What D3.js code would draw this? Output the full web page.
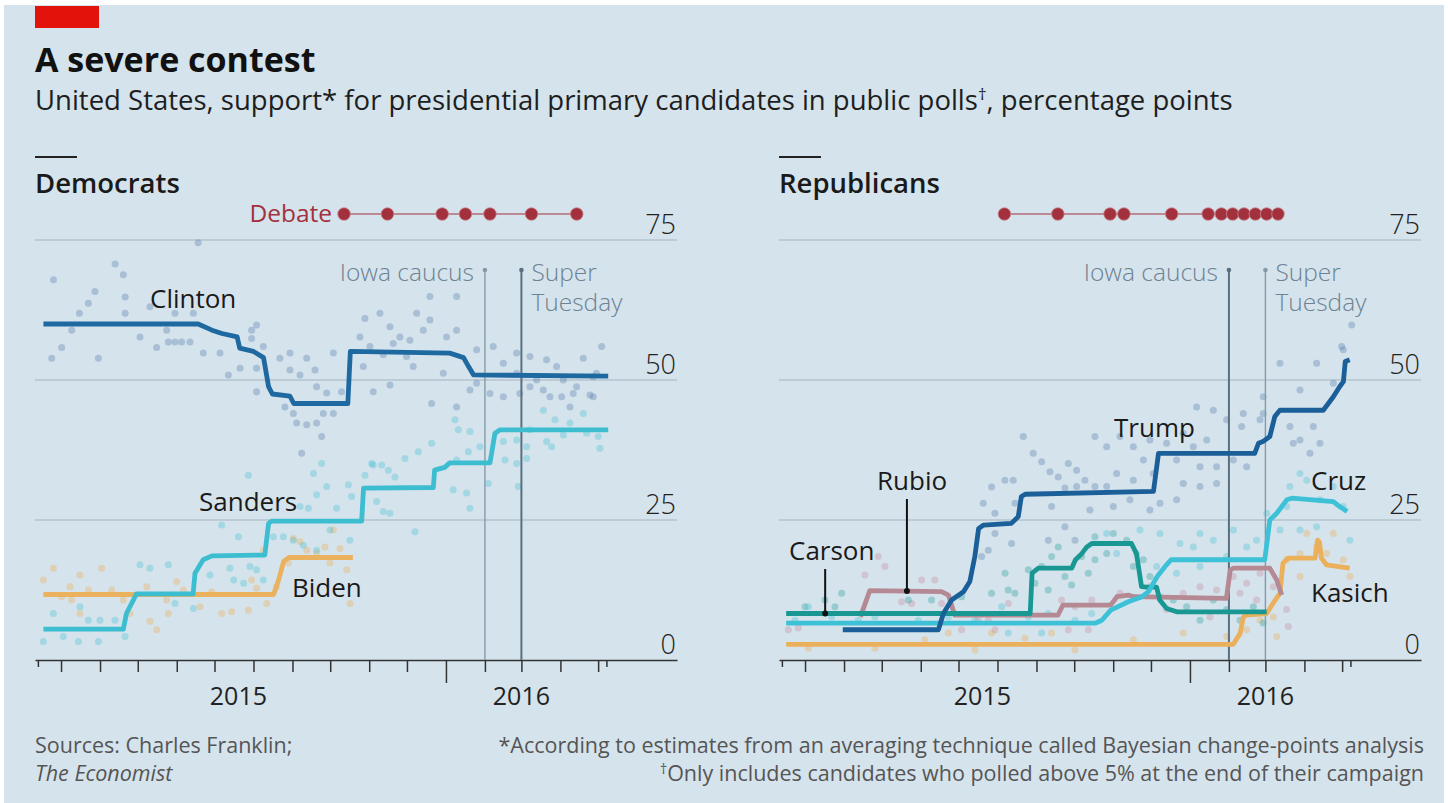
<!DOCTYPE html>
<html><head><meta charset="utf-8">
<script src="https://cdn.jsdelivr.net/npm/d3@7"></script>
<style>
html,body{margin:0;padding:0;background:#fff;}
svg text{font-family:"Open Sans",sans-serif;}
</style></head>
<body><svg id="chart" width="1448" height="803"></svg>
<script>
// x values: days since 1 Jan 2015; y values: percentage points
const yTicks = [0, 25, 50, 75];
const yearLabels = [{label: "2015", day: 200}, {label: "2016", day: 425}];
const events = [{label: "Iowa caucus", day: 396}, {label: "Super Tuesday", day: 425}];
const demDebates = [284, 318.5, 362, 380.5, 400, 433, 469];
const repDebates = [217.5, 260, 301.5, 312.5, 350.5, 379.5, 390, 399, 408, 417, 426, 435];

const clinton = [[45,60],[168,60],[179,58.9],[187,58.3],[199,57.7],[201,55.7],[212,55.1],[220,54],[224,48.8],[227,47.5],[241,47.1],[244,45.8],[287,45.8],[289,55.1],[368,54.8],[379,54],[383,52.4],[387,50.9],[494,50.7]];
const sanders = [[45,5.5],[108.5,5.5],[111,8.3],[119,11.8],[164,11.8],[165.5,15.5],[172,17.9],[179,18.6],[221,18.75],[224,24.4],[226.5,24.8],[298,24.8],[299.5,30.7],[355,30.8],[356,33.9],[364,34.4],[368,35.2],[400,35.2],[404,40.5],[408,41.1],[494,41.1]];
const biden = [[45,11.7],[228,11.7],[232,14.3],[236,17.6],[240,18.3],[291,18.3]];

const trump = [[89,5.4],[165,5.4],[169,8.3],[175.5,10.7],[185,12.2],[190,14],[194,18.5],[197,23.5],[201,24.1],[223,24.4],[228.5,25.6],[231,29.2],[234,29.6],[336,30.1],[340,36.9],[416.5,36.9],[419.5,38.7],[423,39],[428.5,39.9],[432.5,43.5],[436.5,44.6],[471,44.6],[475,45.8],[479,47],[484,48.8],[487,49.7],[488.5,53.3],[492,53.6]];
const cruz = [[44,6.6],[290,6.6],[295,7.1],[302,8.9],[316,10.4],[327,11.3],[332,12.2],[339,14.9],[346,16.9],[350,17.9],[424.5,17.9],[428.5,25],[434,26.2],[442,28.6],[446,28.9],[479,28.3],[484,27.4],[490,26.5]];
const carson = [[44,8.3],[238,8.3],[239.5,15.5],[244.5,16.4],[271,16.4],[274,17.9],[279,19],[283,20.2],[287,20.8],[318.5,20.8],[322.5,19],[326.5,13.1],[330.5,13],[338.5,13],[341,10.7],[346.5,9.2],[354.5,8.6],[426,8.6]];
const rubio = [[103,7.7],[110.5,12.4],[167.5,12.2],[173,11.6],[178,8],[260,8],[264,9.8],[302,9.8],[307,11.3],[316,11.6],[320,11.3],[394,11],[397,16],[399.5,16.4],[428.5,16.4],[434,14.3],[438,11.6]];
const kasich = [[44,2.8],[399.5,2.8],[405,4.8],[407.5,7.7],[410,8],[426,8.3],[431,10.1],[436.5,11.9],[439,17.3],[443,18.2],[464.5,18.2],[466.5,21.4],[468,21],[469.5,18.2],[473.5,17],[492,16.4]];

const clintonPolls = [[168,74.5],[53,67.9],[102,70.7],[108.5,68.8],[86,65.8],[80.7,63.7],[73.6,61.9],[110,64.8],[110,61.9],[129.7,63.1],[121.8,57.7],[67.5,58.9],[59.5,55.8],[51.6,53.9],[88.7,53.9],[135,55.8],[144.3,56.8],[149.6,56.8],[154.9,56.8],[161.5,56.8],[143,58.9],[149.6,61.9],[164.2,61.9],[172.1,54.8],[185.4,54.8],[192,50.9],[201.3,52.1],[210.5,58.9],[214.5,59.8],[210.5,57.4],[214.5,52.1],[219.8,56],[214.5,47.9],[233,53.9],[241,54.8],[241,51.8],[249,50.9],[254.3,53.9],[260.9,51.8],[262.2,48.8],[270.2,47.7],[282,47.9],[275.5,54.8],[237,45.2],[243.7,44],[246.3,42.3],[254.3,42],[262.2,42.3],[267.5,44],[275.5,44],[266.2,39.9],[250.3,36.9],[300.6,61],[312.5,61.9],[320.5,59.5],[328.4,57.7],[341.7,61.9],[352.3,60.7],[347,58.9],[373.5,64.9],[352.3,64.9],[296.6,57.7],[304.6,56],[315.2,54.5],[323.1,56.5],[336.4,57.1],[333.7,54.2],[339,52.4],[299.3,52.4],[320.5,49.1],[307.2,47.9],[362.9,51.2],[373.5,58.9],[365.5,57.7],[389.4,55.4],[402.6,56],[410.6,53],[421.2,54.8],[431.8,54.2],[445,53.6],[458.3,50],[468.9,48.8],[482.1,50.6],[488.8,56],[474.2,53.9],[389.4,49.4],[400,47.6],[410.6,47],[431.8,48.8],[447.7,47],[466.2,47.6],[482.1,47],[373.5,45.2],[421.2,51.2],[437.1,50],[453,52.4],[484.7,51.2],[353.6,45.8],[384.1,48.2],[423.8,47.6],[442.4,48.2],[457,47],[463.6,45.2],[479.5,47.3]];
const sandersPolls = [[44.9,3.3],[60.8,4.2],[72.8,3.3],[88.7,3.3],[52.9,8.3],[74,9.5],[80.7,7.1],[90,7.1],[101.9,7.1],[109.9,4.2],[121.8,17],[129.7,16.4],[144.3,17],[149.6,10.1],[164.2,9.2],[177.4,15.2],[186.7,24.1],[193.3,16.4],[200,22],[207.9,33],[209.2,16.7],[214.5,16.1],[196.3,14.3],[204.2,13.7],[219.8,14.3],[227.8,22],[235.7,22],[243.7,21.4],[249,27.4],[255.6,27.1],[259.6,33.3],[262.2,29.5],[266.2,35.1],[270.2,31],[278.1,27.1],[287.4,31.3],[290,29.2],[300.6,33],[305.9,35.1],[313.9,34.8],[309.9,28.3],[251.6,20.5],[262.2,19.6],[272.8,23.2],[288.7,21.4],[307.2,34.8],[319.2,33.9],[324.5,32.7],[315.2,26.5],[320.5,26.2],[340.4,22.9],[332.4,36],[343,37.2],[353.6,38.7],[372.2,42.9],[374.8,41.1],[384.1,40.8],[382.8,37.2],[373.5,35.7],[370.8,30.4],[381.4,29.8],[384.1,27.1],[392,38.1],[398.7,31.5],[410.6,39],[412,35.7],[421.2,35.1],[422.5,31],[429.2,38.1],[429.2,36],[421.2,39.3],[442.4,44.6],[449,38.1],[451.7,42.9],[458.3,40.2],[463.6,42.3],[474.2,44],[476.9,40.5],[487.4,37.8],[486.1,39.9],[445,39],[431.8,41.1]];
const bidenPolls = [[44.9,14.3],[52.9,16.4],[59.5,11.3],[66.1,13.1],[74,15.2],[80.7,12.5],[91.3,16.4],[99.3,12.5],[74,8.3],[67.5,10.7],[108.5,10.7],[113.8,8.3],[129.7,6.9],[135,5.4],[127.1,13.1],[143,10.7],[144.3,8.3],[150.9,14],[156.2,12.5],[169.5,9.5],[178.8,12.2],[186.7,8.3],[194.6,8.6],[207.9,8.9],[214.5,12.8],[222.5,10.1],[210.5,14.3],[219.8,19.6],[230.4,13.1],[243.7,21.7],[249,21.1],[254.3,19.6],[262.2,19.1],[268.8,20.2],[275.5,23.2],[280.8,19.9],[286.1,16.1],[288.7,10.1],[272.8,17.3],[239.7,17.3]];

const trumpPolls = [[232.5,39.9],[240.4,36.9],[247.1,35.4],[253.7,33.6],[260.3,32.7],[268.3,35.1],[274.9,33.9],[281.5,32.1],[289.5,39.9],[207.3,30.9],[217.9,32.1],[224.5,32.1],[210,26.2],[200.7,28],[210,22.6],[204.7,19.6],[199.4,18.5],[223.2,20.8],[255,27.4],[265.6,23.8],[273.6,21.4],[285.5,26.8],[252.4,21.4],[265.6,30.7],[225.9,28],[274.9,31],[289.5,31],[383.6,44.6],[394.2,42.9],[407.4,44],[423.3,44],[436.6,53],[452.5,48.2],[465.7,53],[479,49.4],[485.6,56],[493.6,59.8],[486.9,55.4],[444.5,41.7],[452.5,39.3],[463.1,41.7],[460.4,36.9],[468.4,38.7],[447.2,38.7],[420.7,42.9],[423.3,47],[406.1,41.7],[378.3,39.3],[367.7,38.1],[386.2,34.5],[399.5,35.7],[410.1,34.5],[373,34.5],[354.4,35.7],[346.5,38.7],[333.2,39.3],[320,38.1],[309.4,39.9],[298.8,38.1],[359.7,40.5],[328,35.7],[306.7,33.3],[320,32.1],[335.9,33.3],[298.8,31],[359.7,31.5],[373,31],[386.2,31.5],[354.4,28.6],[317.3,28.6],[304.1,27.4],[333.2,26.8],[341.2,28],[370.3,45.2]];
const cruzPolls = [[61.6,9.5],[51,7.1],[80.1,7.7],[101.3,7.1],[114.6,7.7],[149,7.1],[172.9,7.7],[194.1,7.1],[215.3,9.5],[236.5,7.7],[252.4,8.3],[273.6,7.1],[286.9,8.3],[220.6,4.8],[247.1,4.8],[444.5,31],[452.5,33.3],[457.8,32.1],[468.4,28.6],[479,31],[486.9,27.4],[492.2,21.4],[426,26.2],[441.9,27.4],[436.6,23.2],[452.5,23.2],[465.7,23.8],[373,22.6],[383.6,21.4],[367.7,20.2],[357.1,20.8],[399.5,23.2],[410.1,20.2],[418,21.4],[394.2,18.5],[373,16.7],[354.4,15.5],[338.5,16.7],[322.6,19],[306.7,19],[298.8,22.6],[325.3,23.2],[341.2,22.6]];
const rubioPolls = [[117.2,18.5],[122.5,16.7],[106.6,15.2],[151.7,14.3],[162.2,14.3],[167.6,10.1],[196.7,7.1],[204.7,7.1],[220.6,10.1],[45.7,5.4],[53.6,5.7],[135.8,10.4],[143.7,10.1],[183.5,5.4],[210,5.4],[262.9,10.7],[273.6,9.5],[286.9,10.7],[268.3,5.4],[284.2,5.4],[399.5,14.9],[410.1,13.7],[420.7,15.5],[431.3,13.1],[441.9,9],[443.2,6],[373,13.1],[359.7,11.9],[333.2,13.1],[309.4,11.9],[386.2,12.5],[346.5,9],[381,7.7],[404.8,11.9],[418,10.7]];
const carsonPolls = [[88.1,11.9],[74.8,10.7],[59,9.5],[82.8,9.5],[141.1,10.7],[159.6,10.7],[183.5,11.3],[207.3,11.9],[218,15.5],[225.9,11.9],[241.8,13.7],[247.1,16.7],[252.4,12.5],[260.3,20.2],[265.6,14.9],[270.9,13.4],[278.9,18.5],[284.2,15.5],[289.5,22],[289.5,17.9],[255,18.5],[236.5,16.1],[220.6,12.5],[304.1,22.6],[314.7,21.4],[298.8,19],[320,16.7],[327.9,17.9],[333.2,14.9],[341.2,11.3],[351.8,10.7],[362.4,9.5],[373,7.1],[383.6,10.7],[394.2,9],[404.8,7.1],[415.4,9.5],[423.3,6.6]];
const kasichPolls = [[61.6,2.1],[114.6,2.1],[154.3,3.6],[194.1,1.8],[233.8,3.9],[273.6,1.8],[172.9,4.8],[207.3,4.8],[255,4.8],[410.1,5.4],[420.7,7.1],[431.3,7.7],[441.9,17.9],[452.5,19],[457.8,22.6],[465.7,20.2],[473.7,19],[479,22.6],[486.9,17.9],[452.5,14.9],[434,4.2],[394.2,4.2],[320,3.6],[359.7,4.8],[492.2,14.9]];

// ---------- drawing ----------
const BASE = Date.UTC(2015, 0, 1);
const toDate = d => new Date(BASE + d * 864e5);
const svg = d3.select("#chart");
const BG = "#d5e3ec";

svg.append("rect").attr("x", 4).attr("y", 5).attr("width", 1440).attr("height", 798).attr("fill", BG);
svg.append("rect").attr("x", 35).attr("y", 6).attr("width", 64).attr("height", 22).attr("fill", "#e3120b");
svg.append("text").attr("x", 35).attr("y", 72).attr("font-size", 34).attr("font-weight", 700).attr("fill", "#111").text("A severe contest");
const sub = svg.append("text").attr("x", 35).attr("y", 110).attr("font-size", 27.5).attr("fill", "#1e1e1e");
sub.append("tspan").text("United States, support* for presidential primary candidates in public polls");
sub.append("tspan").attr("font-size", 17).attr("dy", -10).text("†");
sub.append("tspan").attr("dy", 10).text(", percentage points");

function panel(cfg) {
  const g = svg.append("g");
  const x = d3.scaleUtc().domain([toDate(38.3), toDate(548.7)]).range([cfg.x0, cfg.x0 + 642]);
  const y = d3.scaleLinear().domain([0, 75]).range([660, 240]);

  g.append("line").attr("x1", cfg.x0).attr("x2", cfg.x0 + 42).attr("y1", 157).attr("y2", 157).attr("stroke", "#222").attr("stroke-width", 2);
  g.append("text").attr("x", cfg.x0).attr("y", 193).attr("font-size", 27.5).attr("font-weight", 600).attr("fill", "#1a1a1a").text(cfg.title);

  g.selectAll("line.grid").data(yTicks.filter(v => v > 0)).join("line")
    .attr("x1", cfg.x0).attr("x2", cfg.x0 + 642).attr("y1", d => y(d)).attr("y2", d => y(d))
    .attr("stroke", "#a4b3bd").attr("stroke-width", 1.2);
  g.selectAll("text.yl").data(yTicks).join("text")
    .attr("x", cfg.x0 + 641).attr("y", d => y(d) - 6).attr("text-anchor", "end")
    .attr("font-size", 27).attr("font-weight", 300).attr("fill", "#222").text(d => d);

  // x axis
  const months = d3.utcMonth.range(toDate(59), toDate(487));
  const ax = g.append("g").attr("transform", "translate(0,660)")
    .call(d3.axisBottom(x).tickValues(months).tickSize(12).tickSizeOuter(0).tickFormat(""));
  ax.select(".domain").attr("stroke", "#333").attr("stroke-width", 1.5);
  ax.selectAll(".tick line").attr("stroke", "#333").attr("stroke-width", 1.5)
    .attr("y2", d => d.getUTCMonth() === 0 ? 23 : 12);
  [41, 493].forEach(dd => g.append("line").attr("x1", x(toDate(dd))).attr("x2", x(toDate(dd)))
    .attr("y1", 660).attr("y2", 667).attr("stroke", "#333").attr("stroke-width", 1.5));
  g.selectAll("text.yr").data(yearLabels).join("text")
    .attr("x", d => x(toDate(d.day))).attr("y", 705).attr("text-anchor", "middle")
    .attr("font-size", 25).attr("fill", "#222").text(d => d.label);

  // polls
  cfg.polls.forEach(p => {
    g.append("g").selectAll("circle").data(p.data).join("circle")
      .attr("cx", d => x(toDate(d[0]))).attr("cy", d => y(d[1])).attr("r", 3.5)
      .attr("fill", p.color).attr("fill-opacity", 0.36);
  });

  // event lines
  events.forEach((e, i) => {
    const ex = x(toDate(e.day));
    const dark = i === cfg.darkEvent;
    const col = dark ? "#5a6f80" : "#8599a8";
    g.append("line").attr("x1", ex).attr("x2", ex).attr("y1", 270).attr("y2", 660)
      .attr("stroke", col).attr("stroke-width", dark ? 2 : 1.4);
    g.append("circle").attr("cx", ex).attr("cy", 270).attr("r", 2.3).attr("fill", col);
  });
  const tc = "#6d8292";
  g.append("text").attr("x", x(toDate(events[0].day)) - 11).attr("y", 281).attr("text-anchor", "end")
    .attr("font-size", 24.5).attr("font-weight", 300).attr("fill", tc).text("Iowa caucus");
  const st = g.append("text").attr("x", x(toDate(events[1].day)) + 10).attr("y", 281)
    .attr("font-size", 24.5).attr("font-weight", 300).attr("fill", tc);
  st.append("tspan").text("Super");
  st.append("tspan").attr("x", x(toDate(events[1].day)) + 10).attr("dy", 30).text("Tuesday");

  // debates
  const dc = "#a3313d";
  g.append("line").attr("x1", x(toDate(d3.min(cfg.debates)))).attr("x2", x(toDate(d3.max(cfg.debates))))
    .attr("y1", 214).attr("y2", 214).attr("stroke", dc).attr("stroke-width", 1.2);
  g.selectAll("circle.deb").data(cfg.debates).join("circle")
    .attr("cx", d => x(toDate(d))).attr("cy", 214).attr("r", 6.3)
    .attr("fill", dc).attr("stroke", "#c7868d").attr("stroke-width", 0.8);
  if (cfg.debateLabel) {
    g.append("text").attr("x", x(toDate(cfg.debates[0])) - 12).attr("y", 222).attr("text-anchor", "end")
      .attr("font-size", 24.5).attr("fill", dc).text("Debate");
  }

  // trend lines
  const line = d3.line().x(d => x(toDate(d[0]))).y(d => y(d[1]));
  cfg.lines.forEach(l => {
    g.append("path").datum(l.data).attr("d", line).attr("fill", "none")
      .attr("stroke", l.color).attr("stroke-width", 4.8).attr("stroke-linejoin", "round");
  });

  // labels
  cfg.labels.forEach(l => {
    g.append("text").attr("x", l.x).attr("y", l.y).attr("font-size", 26).attr("fill", "#1a1a1a").text(l.text);
    if (l.leader) {
      const lx = x(toDate(l.leader.day));
      const ly = y(l.leader.value);
      g.append("line").attr("x1", lx).attr("x2", lx).attr("y1", l.leader.top).attr("y2", ly)
        .attr("stroke", "#111").attr("stroke-width", 2);
      g.append("circle").attr("cx", lx).attr("cy", ly).attr("r", 3).attr("fill", "#111");
    }
  });
}

panel({
  x0: 35, title: "Democrats", darkEvent: 1, debates: demDebates, debateLabel: true,
  polls: [
    {data: bidenPolls, color: "#eeae55"},
    {data: sandersPolls, color: "#49c1d2"},
    {data: clintonPolls, color: "#5a7fae"}
  ],
  lines: [
    {data: biden, color: "#eab25f"},
    {data: sanders, color: "#3cbdd0"},
    {data: clinton, color: "#1f69a1"}
  ],
  labels: [
    {text: "Clinton", x: 150, y: 308},
    {text: "Sanders", x: 199, y: 511},
    {text: "Biden", x: 292, y: 597}
  ]
});

panel({
  x0: 779, title: "Republicans", darkEvent: 0, debates: repDebates, debateLabel: false,
  polls: [
    {data: kasichPolls, color: "#eeae55"},
    {data: rubioPolls, color: "#c48e9b"},
    {data: carsonPolls, color: "#2aa29f"},
    {data: cruzPolls, color: "#49c1d2"},
    {data: trumpPolls, color: "#5a7fae"}
  ],
  lines: [
    {data: kasich, color: "#ebb05b"},
    {data: rubio, color: "#b58993"},
    {data: carson, color: "#199893"},
    {data: cruz, color: "#3cc1d6"},
    {data: trump, color: "#1b5f99"}
  ],
  labels: [
    {text: "Trump", x: 1114, y: 437},
    {text: "Cruz", x: 1311, y: 490},
    {text: "Kasich", x: 1311, y: 602},
    {text: "Carson", x: 789, y: 560, leader: {day: 75, value: 8.3, top: 569}},
    {text: "Rubio", x: 877, y: 490, leader: {day: 140, value: 12.3, top: 499}}
  ]
});

// footer
const fc = "#555";
svg.append("text").attr("x", 35).attr("y", 753).attr("font-size", 21.5).attr("fill", fc).text("Sources: Charles Franklin;");
svg.append("text").attr("x", 35).attr("y", 781).attr("font-size", 21.5).attr("font-style", "italic").attr("fill", fc).text("The Economist");
svg.append("text").attr("x", 1424).attr("y", 753).attr("font-size", 21.5).attr("text-anchor", "end").attr("fill", fc)
  .text("*According to estimates from an averaging technique called Bayesian change-points analysis");
const fn = svg.append("text").attr("x", 1424).attr("y", 781).attr("font-size", 21.5).attr("text-anchor", "end").attr("fill", fc);
fn.append("tspan").attr("font-size", 14).attr("dy", -7).text("†");
fn.append("tspan").attr("dy", 7).text("Only includes candidates who polled above 5% at the end of their campaign");
</script></body></html>
